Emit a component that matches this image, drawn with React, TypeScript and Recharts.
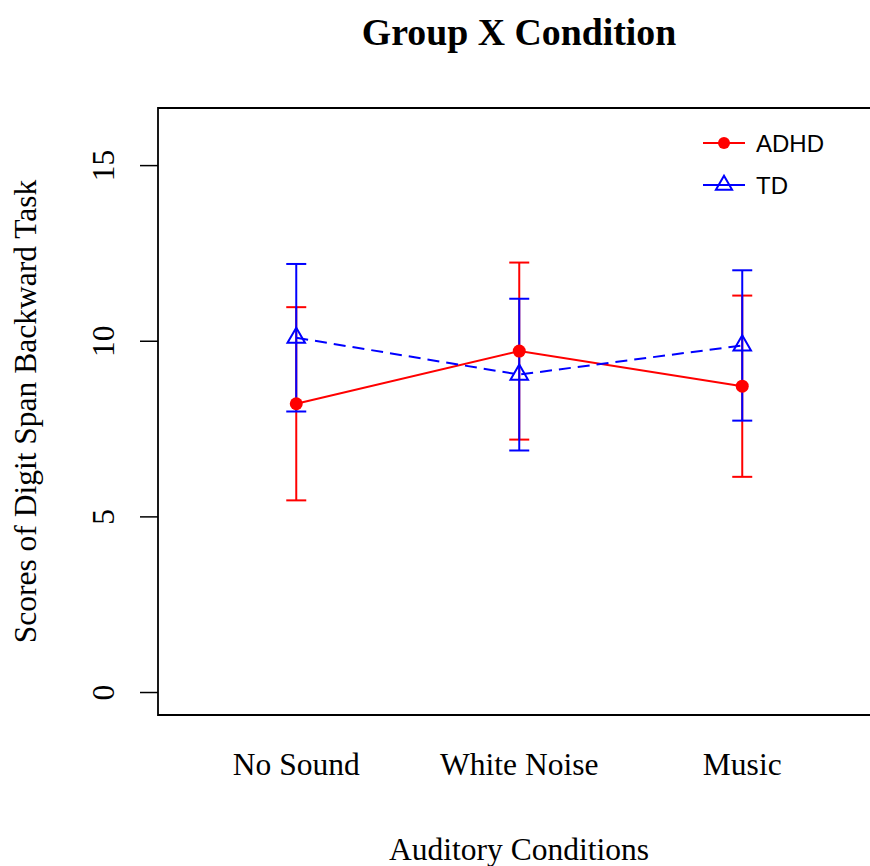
import React from 'react';
import { ComposedChart, Line, XAxis, YAxis, ErrorBar, ReferenceArea } from 'recharts';

const conditions = ['No Sound', 'White Noise', 'Music'];
const adhdMean = [8.22, 9.72, 8.72];
const adhdSD = [2.75, 2.52, 2.58];
const tdMean = [10.1, 9.05, 9.88];
const tdSD = [2.1, 2.16, 2.14];
const yTicks = [0, 5, 10, 15];
const xTicks = [1, 2, 3];
const seriesNames = ['ADHD', 'TD'];

const data = conditions.map((c, i) => ({
  x: i + 1,
  name: c,
  adhd: adhdMean[i],
  adhdErr: adhdSD[i],
  td: tdMean[i],
  tdErr: tdSD[i],
}));

const RED = '#FF0000';
const BLUE = '#0000FF';
const SERIF = '"Liberation Serif", "Times New Roman", serif';
const SANS = '"Liberation Sans", Arial, sans-serif';
const FS = 31.5;

const RedDot = (props: any) => {
  const { cx, cy, index } = props;
  if (cx == null || cy == null) return <g key={`rd-${index}`} />;
  return <circle key={`rd-${index}`} cx={cx} cy={cy} r={6.5} fill={RED} stroke="none" />;
};

const triPoints = (cx: number, cy: number, s: number) =>
  `${cx},${cy - 1.555 * s} ${cx + 1.347 * s},${cy + 0.778 * s} ${cx - 1.347 * s},${cy + 0.778 * s}`;

const TriDot = (props: any) => {
  const { cx, cy, index } = props;
  if (cx == null || cy == null) return <g key={`td-${index}`} />;
  return (
    <polygon key={`td-${index}`} points={triPoints(cx, cy, 6.5)} fill="none" stroke={BLUE} strokeWidth={2} />
  );
};

const YTick = (props: any) => {
  const { x, y, payload } = props;
  const tx = x - 26;
  return (
    <text
      x={tx}
      y={y}
      transform={`rotate(-90, ${tx}, ${y})`}
      textAnchor="middle"
      style={{ fontFamily: SERIF, fontSize: FS }}
      fill="#000"
    >
      {payload.value}
    </text>
  );
};

const XTick = (props: any) => {
  const { x, y, payload } = props;
  return (
    <text x={x} y={y + 60} textAnchor="middle" style={{ fontFamily: SERIF, fontSize: FS }} fill="#000">
      {conditions[payload.value - 1]}
    </text>
  );
};

export default function App() {
  return (
    <div style={{ position: 'absolute', left: 0, top: 0, width: 870, height: 866, overflow: 'hidden', background: '#fff' }}>
      <ComposedChart
        width={900}
        height={866}
        data={data}
        margin={{ top: 108, right: 19.5, bottom: 0, left: 0 }}
      >
        <XAxis
          type="number"
          dataKey="x"
          domain={[0.38, 3.62]}
          ticks={xTicks}
          allowDataOverflow
          axisLine={false}
          tickLine={false}
          tickSize={0}
          tickMargin={0}
          height={151}
          tick={<XTick />}
          interval={0}
        />
        <YAxis
          type="number"
          domain={[-0.64, 16.64]}
          ticks={yTicks}
          allowDataOverflow
          axisLine={false}
          tickLine={{ stroke: '#000', strokeWidth: 1.5 }}
          tickSize={18}
          tickMargin={0}
          width={158}
          tick={<YTick />}
          interval={0}
        />
        <ReferenceArea
          x1={0.38}
          x2={3.62}
          y1={-0.64}
          y2={16.64}
          fill="none"
          fillOpacity={0}
          stroke="#000"
          strokeWidth={1.8}
          ifOverflow="visible"
        />
        <Line
          type="linear"
          dataKey="adhd"
          stroke={RED}
          strokeWidth={2}
          dot={false}
          activeDot={false}
          isAnimationActive={false}
        >
          <ErrorBar dataKey="adhdErr" width={10} stroke={RED} strokeWidth={2} direction="y" />
        </Line>
        <Line
          type="linear"
          dataKey="td"
          stroke={BLUE}
          strokeWidth={2}
          strokeDasharray="12 7"
          dot={<TriDot />}
          activeDot={false}
          isAnimationActive={false}
        >
          <ErrorBar dataKey="tdErr" width={10} stroke={BLUE} strokeWidth={2} direction="y" />
        </Line>
        <Line
          type="linear"
          dataKey="adhd"
          stroke="none"
          dot={<RedDot />}
          activeDot={false}
          legendType="none"
          isAnimationActive={false}
        />
      </ComposedChart>
      <svg
        width={870}
        height={866}
        style={{ position: 'absolute', left: 0, top: 0, pointerEvents: 'none' }}
      >
        <text x={519} y={45} textAnchor="middle" style={{ fontFamily: SERIF, fontWeight: 'bold', fontSize: 37.8 }} fill="#000">
          Group X Condition
        </text>
        <text x={519} y={860} textAnchor="middle" style={{ fontFamily: SERIF, fontSize: FS }} fill="#000">
          Auditory Conditions
        </text>
        <text
          x={36}
          y={411.5}
          transform="rotate(-90, 36, 411.5)"
          textAnchor="middle"
          style={{ fontFamily: SERIF, fontSize: FS }}
          fill="#000"
        >
          Scores of Digit Span Backward Task
        </text>
        <g>
          <line x1={703} y1={143} x2={745} y2={143} stroke={RED} strokeWidth={2} />
          <circle cx={724} cy={143} r={6} fill={RED} />
          <text x={756} y={151.5} style={{ fontFamily: SANS, fontSize: 24 }} fill="#000">{seriesNames[0]}</text>
          <line x1={703} y1={185} x2={745} y2={185} stroke={BLUE} strokeWidth={2} />
          <polygon points={triPoints(724, 185, 6)} fill="none" stroke={BLUE} strokeWidth={2} />
          <text x={756} y={193.5} style={{ fontFamily: SANS, fontSize: 24 }} fill="#000">{seriesNames[1]}</text>
        </g>
      </svg>
    </div>
  );
}
